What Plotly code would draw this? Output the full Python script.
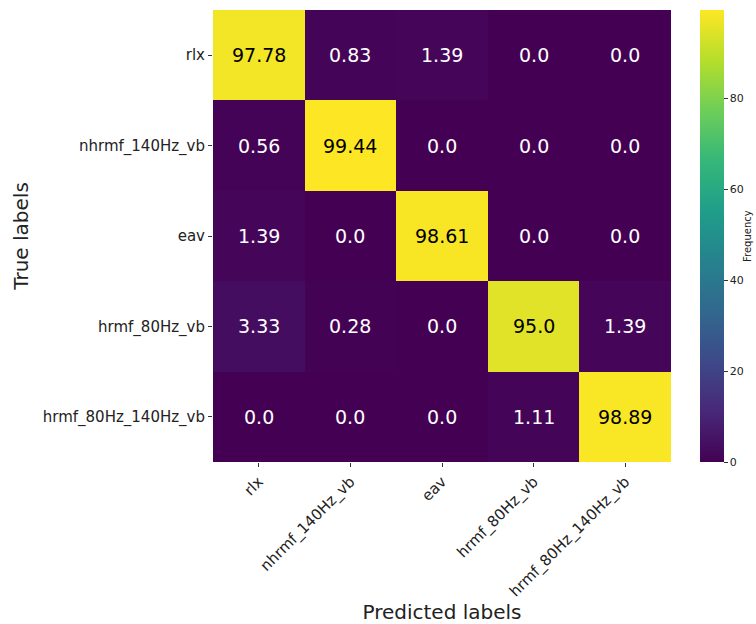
import plotly.graph_objects as go

labels = ["rlx", "nhrmf_140Hz_vb", "eav", "hrmf_80Hz_vb", "hrmf_80Hz_140Hz_vb"]
row_rlx = [97.78, 0.83, 1.39, 0.0, 0.0]
row_nhrmf = [0.56, 99.44, 0.0, 0.0, 0.0]
row_eav = [1.39, 0.0, 98.61, 0.0, 0.0]
row_hrmf80 = [3.33, 0.28, 0.0, 95.0, 1.39]
row_hrmf80140 = [0.0, 0.0, 0.0, 1.11, 98.89]
z = [row_rlx, row_nhrmf, row_eav, row_hrmf80, row_hrmf80140]
zmax = max(max(r) for r in z)

fig = go.Figure(go.Heatmap(
    z=z, x=labels, y=labels, colorscale="Viridis", zmin=0, zmax=zmax,
    xgap=0, ygap=0,
    colorbar=dict(
        x=(700 - 213) / 458, xanchor="left", xref="paper",
        y=1, yanchor="top", len=1, lenmode="fraction",
        thickness=24, thicknessmode="pixels",
        outlinewidth=0, xpad=0, ypad=0,
        tickvals=[0, 20, 40, 60, 80], ticks="outside", ticklen=4,
        tickcolor="#333", tickfont=dict(size=11, color="#222", family="DejaVu Sans"),
    ),
))

for i, row in enumerate(z):
    for j, v in enumerate(row):
        fig.add_annotation(x=labels[j], y=labels[i], text=str(v), showarrow=False,
                           font=dict(size=19, family="DejaVu Sans",
                                     color="black" if v > 50 else "white"))

fig.add_annotation(xref="paper", yref="paper", x=(747 - 213) / 458, y=0.5,
                   xanchor="center", yanchor="middle", text="Frequency", textangle=-90,
                   showarrow=False, font=dict(size=10, family="DejaVu Sans", color="#222"))

fig.update_layout(
    width=756, height=624,
    margin=dict(l=213, r=85, t=10, b=162),
    plot_bgcolor="white", paper_bgcolor="white",
    font=dict(family="DejaVu Sans", color="#222"),
    xaxis=dict(tickangle=-45, ticks="outside", ticklen=4, tickcolor="#333",
               tickfont=dict(size=15), showgrid=False, zeroline=False, automargin=False,
               title=dict(text="Predicted labels", font=dict(size=20), standoff=8)),
    yaxis=dict(autorange="reversed", ticks="outside", ticklen=4, tickcolor="#333",
               tickfont=dict(size=15), showgrid=False, zeroline=False, automargin=False,
               title=dict(text="True labels", font=dict(size=20), standoff=8)),
)

fig.write_html("out.html", config={"displayModeBar": False},
               post_script="document.body.style.margin='0';")
